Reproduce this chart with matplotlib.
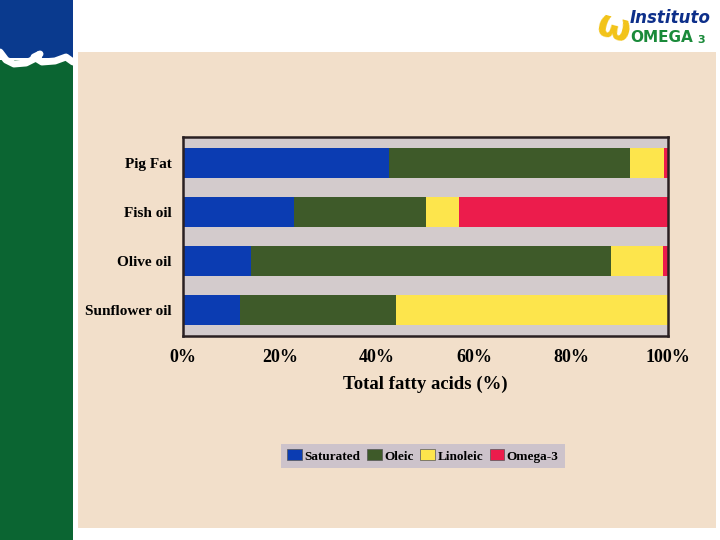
import numpy as np
import matplotlib
matplotlib.use("Agg")
import matplotlib.pyplot as plt
from matplotlib.patches import Rectangle, Patch

plt.rcParams['font.family'] = ['Liberation Serif', 'DejaVu Serif']

# data (percent of total fatty acids)
oils = ['Pig Fat', 'Fish oil', 'Olive oil', 'Sunflower oil']
saturated = [42.4, 22.8, 14.1, 11.8]
oleic = [49.7, 27.3, 74.1, 32.1]
linoleic = [7.1, 6.9, 10.8, 56.1]
omega3 = [0.8, 43.0, 1.0, 0.0]
series_names = ['Saturated', 'Oleic', 'Linoleic', 'Omega-3']
xticks = [0, 20, 40, 60, 80, 100]
xtick_labels = ['0%', '20%', '40%', '60%', '80%', '100%']

colors = ['#0b3cb2', '#3e5a29', '#fde54c', '#ec1c4c']

W, H = 720, 540
fig = plt.figure(figsize=(7.2, 5.4), dpi=100)
fig.patch.set_facecolor('white')


def px_rect(x0, y0, x1, y1, color, z=0):
    # rectangle in pixel coords (origin top-left)
    r = Rectangle((x0 / W, 1 - y1 / H), (x1 - x0) / W, (y1 - y0) / H,
                  transform=fig.transFigure, facecolor=color, edgecolor='none',
                  zorder=z)
    fig.patches.append(r)


# slide decoration
px_rect(78, 52, 716, 528, '#f2dfca')
px_rect(0, 60, 73, 540, '#0b6532')
px_rect(0, 0, 73, 58, '#0a3a8e')
wx = np.array([0, 6, 14, 26, 36, 40, 34, 42, 55, 66, 73]) / W
wy = 1 - np.array([52, 60, 64, 63, 58, 54, 57, 62, 61, 57, 62]) / H
fig.add_artist(plt.Line2D(wx, wy, color='white', lw=5, transform=fig.transFigure,
                          solid_capstyle='round'))

# logo
fig.text(614 / W, 1 - 27 / H, 'ω', color='#f2c318', fontsize=28, ha='center',
         va='center', fontweight='bold', family=['DejaVu Sans'], rotation=-15)
fig.text(630 / W, 1 - 18 / H, 'Instituto', color='#0d2f8a', fontsize=12,
         fontweight='bold', style='italic', family=['DejaVu Sans'], va='center')
fig.text(630 / W, 1 - 37 / H, 'OMEGA', color='#1a8a3a', fontsize=11,
         fontweight='bold', family=['DejaVu Sans'], va='center')
fig.text(697 / W, 1 - 40 / H, '3', color='#1a8a3a', fontsize=8,
         fontweight='bold', family=['DejaVu Sans'], va='center')

# chart
ax = fig.add_axes([183 / W, 1 - 336 / H, 485 / W, 199 / H])
ax.set_zorder(3)
ax.set_facecolor('#d3cbcc')
y = np.arange(len(oils))
left = np.zeros(len(oils))
for vals, name, c in zip([saturated, oleic, linoleic, omega3], series_names, colors):
    ax.barh(y, vals, left=left, height=0.6, color=c, label=name, zorder=2)
    left += np.array(vals)

ax.set_xlim(0, 100)
ax.set_ylim(3.53, -0.53)
ax.set_yticks(y)
ax.set_yticklabels(oils, fontsize=11, fontweight='bold')
ax.set_xticks(xticks)
ax.set_xticklabels(xtick_labels, fontsize=13, fontweight='bold')
ax.tick_params(length=0)
ax.tick_params(axis='x', pad=9)
ax.tick_params(axis='y', pad=8)
ax.set_xlabel('Total fatty acids (%)', fontsize=13.5, fontweight='bold', labelpad=7)
for s in ax.spines.values():
    s.set_color('#2a2022')
    s.set_linewidth(1.8)

handles = [Patch(facecolor=c, edgecolor='#555555', linewidth=0.5) for c in colors]
leg = fig.legend(handles, series_names, loc='center', ncol=4,
                 bbox_to_anchor=(423 / W, 1 - 456 / H), frameon=True, fancybox=False,
                 prop={'size': 9.5, 'weight': 'bold'}, handlelength=1.1,
                 handleheight=0.9, handletextpad=0.2, columnspacing=0.5,
                 borderpad=0.45, borderaxespad=0)
leg.set_zorder(4)
leg.get_frame().set_facecolor('#cdc3cb')
leg.get_frame().set_edgecolor('none')
leg.get_frame().set_alpha(1)

fig.savefig('out.png', dpi=100)
